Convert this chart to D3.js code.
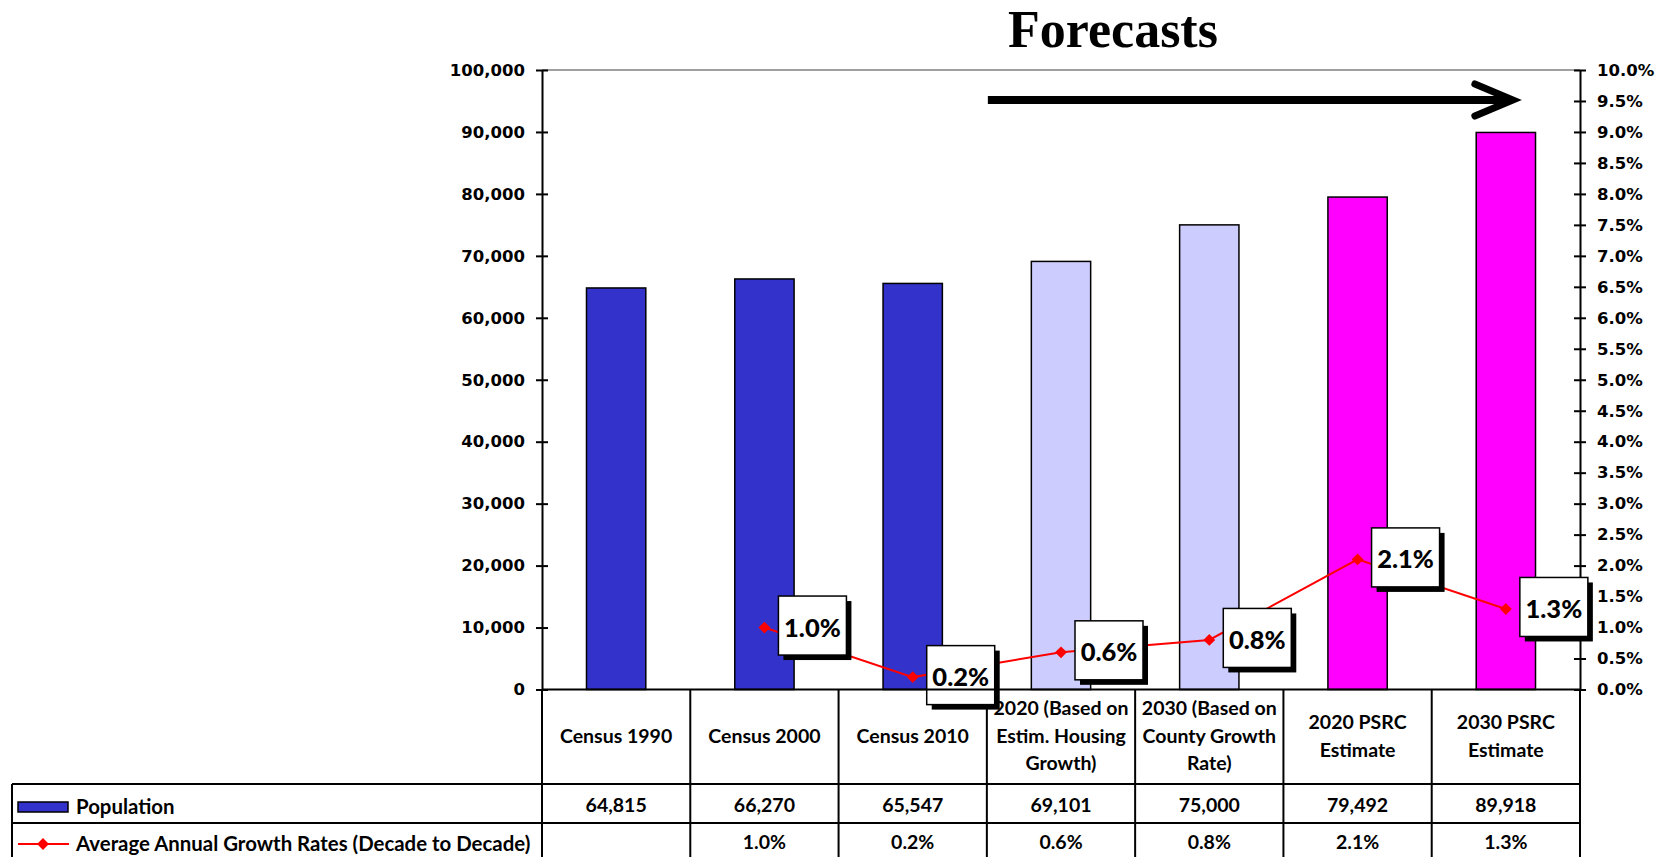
<!DOCTYPE html>
<html><head><meta charset="utf-8">
<script src="https://cdn.jsdelivr.net/npm/d3@7"></script>
<style>body{margin:0;background:#fff}</style>
</head><body>
<svg id="c" width="1665" height="857"></svg>
<script>
const categories = ["Census 1990","Census 2000","Census 2010","2020 (Based on\nEstim. Housing\nGrowth)","2030 (Based on\nCounty Growth\nRate)","2020 PSRC\nEstimate","2030 PSRC\nEstimate"];
const population = [64815,66270,65547,69101,75000,79492,89918];
const growthRates = [null,1.0,0.2,0.6,0.8,2.1,1.3];
const barColors = ["#3333CC","#3333CC","#3333CC","#CCCCFF","#CCCCFF","#FF00FF","#FF00FF"];
const leftTicks = [0,10000,20000,30000,40000,50000,60000,70000,80000,90000,100000];
const rightTicks = [0,0.5,1,1.5,2,2.5,3,3.5,4,4.5,5,5.5,6,6.5,7,7.5,8,8.5,9,9.5,10];
const seriesNames = ["Population","Average Annual Growth Rates (Decade to Decade)"];
const titleText = "Forecasts";

const svg = d3.select("#c");
const X0 = 542, X1 = 1580, Y0 = 70, Y1 = 689.5;
const tLeft = 12, rowTop = 784, rowMid = 823, rowBot = 862;
const axisFont = "'DejaVu Sans', Verdana, sans-serif";
const tableFont = "Lato, 'Open Sans', sans-serif";

const x = d3.scaleBand().domain(categories).range([X0, X1]).padding(0);
const bw = x.bandwidth();
const y = d3.scaleLinear().domain([0, 100000]).range([Y1, Y0]);
const y2 = d3.scaleLinear().domain([0, 10]).range([Y1, Y0]);
const cx = c => x(c) + bw / 2;

// table grid
const g = svg.append("g").attr("stroke", "#000").attr("stroke-width", 2);
[rowTop, rowMid, rowBot].forEach(yy => g.append("line").attr("x1", tLeft).attr("x2", X1).attr("y1", yy).attr("y2", yy));
g.append("line").attr("x1", tLeft).attr("x2", tLeft).attr("y1", rowTop).attr("y2", rowBot);
g.append("line").attr("x1", X0).attr("x2", X0).attr("y1", Y1).attr("y2", rowBot);
categories.forEach(c => g.append("line").attr("x1", x(c) + bw).attr("x2", x(c) + bw).attr("y1", Y1).attr("y2", rowBot));

// header text
const hdr = svg.append("g").attr("font-family", tableFont).attr("font-weight", 700).attr("font-size", 19.5).attr("text-anchor", "middle");
categories.forEach(c => {
  const lines = c.split("\n");
  const lh = 27.5;
  const cy = (Y1 + rowTop) / 2 - 2 - (lines.length - 1) * lh / 2;
  const t = hdr.append("text").attr("x", cx(c)).attr("y", cy).attr("dominant-baseline", "central");
  lines.forEach((l, i) => t.append("tspan").attr("x", cx(c)).attr("dy", i === 0 ? 0 : lh).text(l));
});

// table values
const fmtPop = d3.format(",");
const tv = svg.append("g").attr("font-family", tableFont).attr("font-weight", 700).attr("font-size", 19.5).attr("text-anchor", "middle").attr("dominant-baseline", "central");
categories.forEach((c, i) => {
  tv.append("text").attr("x", cx(c)).attr("y", (rowTop + rowMid) / 2 + 1).text(fmtPop(population[i]));
  if (growthRates[i] != null) tv.append("text").attr("x", cx(c)).attr("y", (rowMid + rowBot) / 2 - 1).text(growthRates[i].toFixed(1) + "%");
});

// legend keys in table
svg.append("rect").attr("x", 18).attr("y", 802).attr("width", 50).attr("height", 10).attr("fill", "#3333CC").attr("stroke", "#000").attr("stroke-width", 1.5);
svg.append("line").attr("x1", 18).attr("x2", 69).attr("y1", 844).attr("y2", 844).attr("stroke", "#FF0000").attr("stroke-width", 2);
svg.append("path").attr("d", d3.symbol(d3.symbolSquare, 70)()).attr("transform", "translate(43,844) rotate(45)").attr("fill", "#FF0000");
const lg = svg.append("g").attr("font-family", tableFont).attr("font-weight", 700).attr("font-size", 20.4).attr("dominant-baseline", "central");
lg.append("text").attr("x", 76).attr("y", 806).text(seriesNames[0]);
lg.append("text").attr("x", 76).attr("y", 843).text(seriesNames[1]);

// top border of plot area
svg.append("line").attr("x1", X0).attr("x2", X1).attr("y1", Y0).attr("y2", Y0).attr("stroke", "#808080").attr("stroke-width", 1.5);

// bars
const barW = bw / 2.5;
svg.append("g").selectAll("rect").data(population).join("rect")
  .attr("x", (d, i) => cx(categories[i]) - barW / 2)
  .attr("y", d => y(d))
  .attr("width", barW)
  .attr("height", d => Y1 - y(d))
  .attr("fill", (d, i) => barColors[i])
  .attr("stroke", "#000").attr("stroke-width", 1.5);

// axes
const la = svg.append("g").attr("transform", `translate(${X0},0)`)
  .call(d3.axisLeft(y).tickValues(leftTicks).tickFormat(d3.format(",")).tickSize(0).tickPadding(17));
la.selectAll(".tick").append("line").attr("x1", -6).attr("x2", 6).attr("stroke", "#000").attr("stroke-width", 2);
const ra = svg.append("g").attr("transform", `translate(${X1},0)`)
  .call(d3.axisRight(y2).tickValues(rightTicks).tickFormat(d => d.toFixed(1) + "%").tickSize(0).tickPadding(17));
ra.selectAll(".tick").append("line").attr("x1", -6).attr("x2", 6).attr("stroke", "#000").attr("stroke-width", 2);
[la, ra].forEach(a => {
  a.select(".domain").attr("stroke", "#000").attr("stroke-width", 2);
  a.selectAll("text").attr("font-family", axisFont).attr("font-weight", 700).attr("font-size", 16.5).attr("fill", "#000");
});

// growth line
const pts = growthRates.map((v, i) => ({ v, c: categories[i] })).filter(d => d.v != null);
svg.append("path").datum(pts)
  .attr("d", d3.line().x(d => cx(d.c)).y(d => y2(d.v)))
  .attr("fill", "none").attr("stroke", "#FF0000").attr("stroke-width", 2);
svg.append("g").selectAll("path").data(pts).join("path")
  .attr("d", d3.symbol(d3.symbolSquare, 70)())
  .attr("transform", d => `translate(${cx(d.c)},${y2(d.v)}) rotate(45)`)
  .attr("fill", "#FF0000");

// data label boxes
const bwid = 68, bht = 59;
const lb = svg.append("g").selectAll("g").data(pts).join("g")
  .attr("transform", d => `translate(${cx(d.c) + 14},${y2(d.v) - bht / 2 - 2})`);
lb.append("rect").attr("x", 5).attr("y", 5).attr("width", bwid).attr("height", bht).attr("fill", "#000");
lb.append("rect").attr("width", bwid).attr("height", bht).attr("fill", "#fff").attr("stroke", "#000").attr("stroke-width", 1.5);
lb.append("text").attr("x", bwid / 2).attr("y", bht / 2 + 1).attr("text-anchor", "middle").attr("dominant-baseline", "central")
  .attr("font-family", tableFont).attr("font-weight", 900).attr("font-size", 25.5).text(d => d.v.toFixed(1) + "%");

// category axis line on top
svg.append("line").attr("x1", X0).attr("x2", X1).attr("y1", Y1).attr("y2", Y1).attr("stroke", "#000").attr("stroke-width", 2);

// title + arrow
svg.append("text").attr("x", 1113).attr("y", 47).attr("text-anchor", "middle")
  .attr("font-family", "'Liberation Serif', 'Times New Roman', serif").attr("font-weight", 700).attr("font-size", 52).text(titleText);
const ax0 = x(categories[3]) + 1, ax1 = cx(categories[6]) + 7, ay = 100;
svg.append("line").attr("x1", ax0).attr("x2", ax1 - 4).attr("y1", ay).attr("y2", ay).attr("stroke", "#000").attr("stroke-width", 8);
svg.append("polyline").attr("points", `${ax1 - 38},${ay - 16} ${ax1},${ay} ${ax1 - 38},${ay + 16}`)
  .attr("fill", "none").attr("stroke", "#000").attr("stroke-width", 7).attr("stroke-linecap", "round").attr("stroke-linejoin", "miter");
</script>
</body></html>
